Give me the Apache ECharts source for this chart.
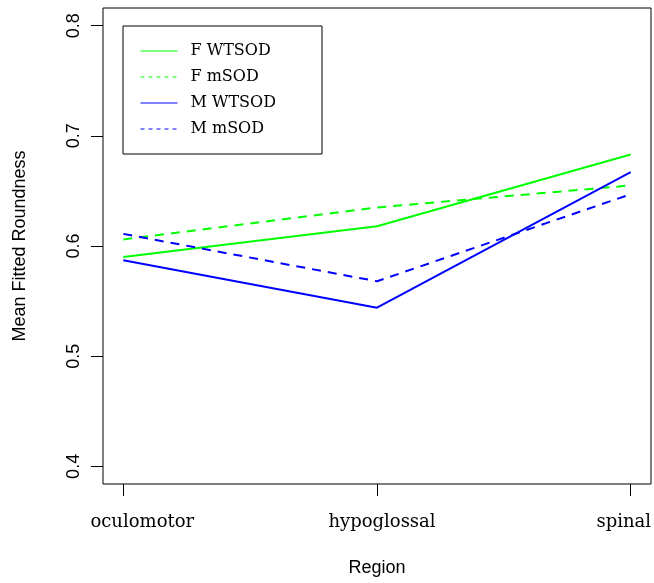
<!DOCTYPE html>
<html>
<head>
<meta charset="utf-8">
<script src="https://cdn.jsdelivr.net/npm/echarts@6/dist/echarts.min.js"></script>
<style>
  html, body { margin: 0; padding: 0; background: #fff; }
  #chart { width: 654px; height: 583px; }
</style>
</head>
<body>
<div id="chart"></div>
<script>
// region categories along the x axis
const regions = ["oculomotor", "hypoglossal", "spinal"];
const regionPos = [1, 2, 3];
const yTicks = [0.4, 0.5, 0.6, 0.7, 0.8];

// mean fitted roundness per group
const fWTSOD = [0.590, 0.618, 0.683];
const fmSOD = [0.606, 0.635, 0.655];
const mWTSOD = [0.587, 0.544, 0.667];
const mmSOD = [0.611, 0.568, 0.647];

const sans = "'Liberation Sans', Arial, sans-serif";
const serif = "'DejaVu Serif', serif";

function pts(vals) {
  return vals.map((v, i) => [regionPos[i], v]);
}

function mkSeries(name, vals, color, dashed) {
  return {
    name: name,
    type: "line",
    data: pts(vals),
    symbol: "none",
    silent: true,
    lineStyle: { color: color, width: 2, type: dashed ? [9, 7] : "solid" },
    itemStyle: { color: color },
  };
}

// legend entry: thin line only, no marker
function legItem(name, dashed) {
  return {
    name: name,
    itemStyle: { color: "transparent", borderWidth: 0 },
    lineStyle: { width: 1, type: dashed ? [4, 4] : "solid" },
  };
}

// the original labels sit a bit off their ticks
const labStyle = { fontFamily: serif, fontSize: 18, color: "#000" };
const richLab = {
  l0: Object.assign({ padding: [0, 0, 0, 38] }, labStyle),
  l1: Object.assign({ padding: [0, 0, 0, 10] }, labStyle),
  l2: Object.assign({ padding: [0, 14, 0, 0] }, labStyle),
};

let myChart = echarts.init(document.getElementById("chart"));

var options = {
  animation: false,
  backgroundColor: "#fff",
  grid: {
    left: 103,
    right: 3,
    top: 8,
    bottom: 99,
    outerBoundsMode: "none",
    containLabel: false,
    show: true,
    borderColor: "#000",
    borderWidth: 1,
  },
  legend: {
    orient: "vertical",
    left: 123,
    top: 26,
    padding: [17, 46, 17, 17],
    itemWidth: 37,
    itemHeight: 14,
    itemGap: 10,
    borderColor: "#000",
    borderWidth: 1,
    textStyle: { fontFamily: serif, fontSize: 16, color: "#000", padding: [0, 0, 0, 8] },
    data: [
      legItem("F WTSOD", false),
      legItem("F mSOD", true),
      legItem("M WTSOD", false),
      legItem("M mSOD", true),
    ],
  },
  xAxis: {
    type: "value",
    min: 0.92,
    max: 3.08,
    name: "Region",
    nameLocation: "middle",
    nameGap: 75,
    nameTextStyle: { fontFamily: sans, fontSize: 18, color: "#000" },
    axisLine: { show: false },
    splitLine: { show: false },
    axisTick: {
      show: true,
      customValues: regionPos,
      length: 12,
      lineStyle: { color: "#000" },
    },
    axisLabel: {
      customValues: regionPos,
      margin: 29,
      fontFamily: serif,
      fontSize: 18,
      color: "#000",
      rich: richLab,
      formatter: (v) => {
        const i = Math.round(v) - 1;
        return "{l" + i + "|" + regions[i] + "}";
      },
    },
  },
  yAxis: {
    type: "value",
    min: 0.384,
    max: 0.816,
    name: "Mean Fitted Roundness",
    nameLocation: "middle",
    nameRotate: 90,
    nameGap: 74,
    nameTextStyle: { fontFamily: sans, fontSize: 18, color: "#000" },
    axisLine: { show: false },
    splitLine: { show: false },
    axisTick: {
      show: true,
      customValues: yTicks,
      length: 12,
      lineStyle: { color: "#000" },
    },
    axisLabel: {
      customValues: yTicks,
      rotate: 90,
      margin: 20,
      fontFamily: sans,
      fontSize: 18,
      color: "#000",
      formatter: (v) => v.toFixed(1),
    },
  },
  series: [
    mkSeries("F WTSOD", fWTSOD, "#00ff00", false),
    mkSeries("F mSOD", fmSOD, "#00ff00", true),
    mkSeries("M WTSOD", mWTSOD, "#0000ff", false),
    mkSeries("M mSOD", mmSOD, "#0000ff", true),
  ],
};
myChart.setOption(options);
</script>
</body>
</html>
